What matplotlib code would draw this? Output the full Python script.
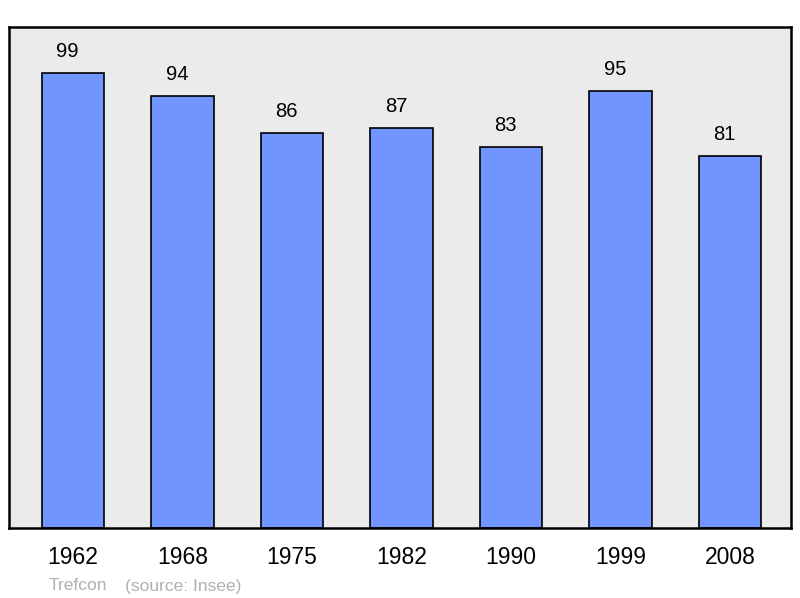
import matplotlib
matplotlib.use("Agg")
import matplotlib.pyplot as plt

years = ["1962", "1968", "1975", "1982", "1990", "1999", "2008"]
population = [99, 94, 86, 87, 83, 95, 81]
author = "Trefcon"
source = "(source: Insee)"

plt.rcParams['font.family'] = ['Liberation Sans', 'DejaVu Sans']

fig = plt.figure(figsize=(8, 5.98), dpi=100)
ax = fig.add_axes([9/800, 1 - 528/598, 782/800, 501/598])
ax.set_facecolor('#ebebeb')
x = list(range(len(years)))
ax.bar(x, population, width=0.57, color='#7095ff', edgecolor='black', linewidth=1.2, zorder=2)
for xi, v in zip(x, population):
    ax.text(xi - 0.05, v + 2.6, str(v), ha='center', va='bottom', fontsize=14.5)
ax.set_xlim(-0.585, 6.555)
ax.set_ylim(0, 109)
ax.set_yticks([])
ax.set_xticks(x)
ax.set_xticklabels(years, fontsize=16.5)
ax.tick_params(axis='x', length=0, pad=13)
for s in ax.spines.values():
    s.set_linewidth(1.8)
fig.text(49/800, 1 - 586/598, author, color='#b0b0b0', fontsize=12.5, va='center')
fig.text(125/800, 1 - 586/598, source, color='#b0b0b0', fontsize=12.5, va='center')
fig.savefig('out.png', dpi=100)
